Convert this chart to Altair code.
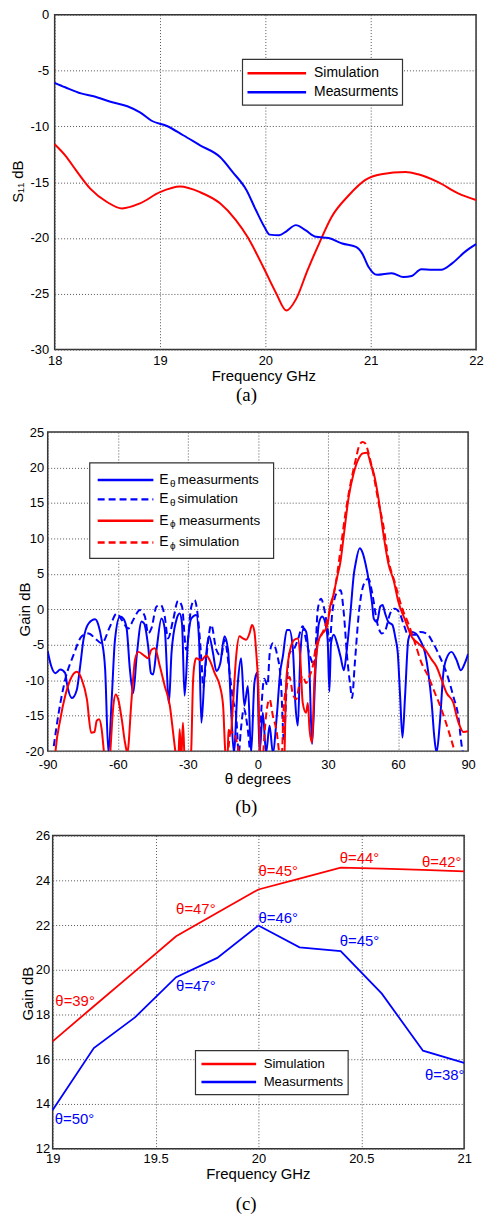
import altair as alt
import pandas as pd

F = "Liberation Sans"
SERIF = "Liberation Serif"
RED = "#ff0000"
BLUE = "#0000ff"
GRID = "#555555"
FRAME = "#333333"

# ---------------- (a) S11 ----------------
a_series = ["Simulation", "Measurments"]
a_sim_f = [18.0, 18.1, 18.2, 18.34, 18.5, 18.64, 18.81, 19.0, 19.19, 19.38, 19.57, 19.72,
           19.83, 19.98, 20.1, 20.2, 20.29, 20.4, 20.51, 20.63, 20.79, 20.95, 21.1, 21.33,
           21.45, 21.64, 21.83, 22.0]
a_sim_db = [-11.6, -12.6, -13.9, -15.6, -16.8, -17.35, -16.9, -15.9, -15.4, -15.9, -16.9, -18.4,
            -19.9, -22.6, -24.9, -26.5, -25.5, -22.9, -20.5, -18.1, -16.2, -14.8, -14.3, -14.1,
            -14.3, -15.0, -16.0, -16.6]
a_meas_f = [18.0, 18.1, 18.25, 18.37, 18.53, 18.69, 18.81, 18.92, 19.06, 19.22, 19.38, 19.57,
            19.69, 19.82, 19.91, 19.99, 20.04, 20.13, 20.2, 20.29, 20.38, 20.48, 20.6, 20.73,
            20.86, 20.92, 20.98, 21.06, 21.2, 21.31, 21.39, 21.48, 21.58, 21.67, 21.77, 21.9, 22.0]
a_meas_db = [-6.1, -6.5, -7.05, -7.3, -7.8, -8.2, -8.75, -9.5, -9.95, -10.8, -11.7, -12.75,
             -14.1, -15.7, -17.5, -19.0, -19.7, -19.75, -19.4, -18.85, -19.3, -19.9, -20.0, -20.5,
             -20.8, -21.4, -22.6, -23.3, -23.15, -23.5, -23.4, -22.8, -22.85, -22.85, -22.3, -21.2, -20.55]
a_xticks = [18, 19, 20, 21, 22]
a_yticks = [-30, -25, -20, -15, -10, -5, 0]

# ---------------- (b) radiation pattern ----------------
b_series = ["E\u03b8 measurments", "E\u03b8 simulation", "E\u03d5 measurments", "E\u03d5 simulation"]
b_em_th = [-90, -88.5, -86.7, -84.6, -82.5, -81.8, -79.6, -77.5, -76.1, -74.7,
           -72.5, -69.7, -68.3, -66.9, -65.4, -64.0, -62.6, -61.2, -59.1, -57.6,
           -56.2, -54.8, -53.4, -51.9, -49.8, -48.7, -47.0, -45.8, -44.9, -43.4,
           -41.3, -39.9, -38.1, -37.0, -34.9, -33.5, -32.5, -31.4, -29.9, -28.5,
           -26.4, -25.2, -24.2, -22.8, -20.9, -19.2, -17.8, -16.1, -14.3, -12.8,
           -11.4, -10.3, -8.6, -7.2, -5.8, -4.3, -2.9, -1.5, -0.3, 0.7,
           2.1, 3.5, 5.0, 6.4, 8.1, 9.5, 10.7, 12.4, 13.5, 15.0,
           16.1, 17.1, 18.2, 19.5, 20.6, 22.1, 23.2, 24.6, 26.1, 27.5,
           28.9, 29.9, 30.6, 31.3, 32.5, 33.9, 35.4, 36.8, 38.2, 39.6,
           41.1, 41.8, 43.6, 44.8, 46.1, 47.7, 48.9, 49.6, 51.0, 52.4,
           53.4, 54.5, 55.9, 57.6, 58.8, 59.9, 60.9, 61.9, 63.0, 64.4,
           65.9, 67.6, 69.4, 71.6, 73.0, 74.4, 75.5, 76.5, 77.9, 79.4,
           80.8, 82.9, 85.0, 86.9, 88.6, 90]
b_em_db = [-5.9, -8.0, -9.0, -8.5, -9.0, -10.4, -12.5, -11.3, -8.0, -4.3,
           -2.0, -1.4, -2.2, -4.3, -8.5, -20.2, -12.7, -4.3, -1.0, -1.3,
           -2.7, -8.5, -11.8, -6.6, -1.7, -2.0, -5.2, -9.0, -9.2, -5.7,
           -1.3, -2.7, -13.2, -6.2, -1.5, -0.6, -2.0, -12.2, -4.3, -1.3,
           -0.8, -4.3, -16.0, -9.0, -3.8, -6.2, -8.7, -7.6, -3.8, -5.7,
           -14.6, -20.2, -10.4, -6.9, -13.6, -10.8, -20.2, -10.4, -8.9, -20.2,
           -14.6, -20.2, -16.4, -20.2, -15.0, -9.0, -6.6, -2.9, -2.9, -5.7,
           -13.6, -16.4, -6.2, -2.7, -3.1, -9.0, -19.0, -9.0, -2.0, -1.0,
           -2.0, -4.5, -11.6, -4.8, -3.6, -4.8, -6.7, -8.6, -5.3, -0.6,
           5.0, 6.4, 8.6, 8.0, 6.4, 3.6, 0.8, -1.3, -1.8, 0.4,
           0.6, -0.6, -1.8, -2.2, -3.9, -6.2, -12.3, -18.1, -12.3, -4.3,
           -3.2, -3.4, -4.3, -6.2, -9.0, -13.2, -17.9, -20.2, -16.0, -9.0,
           -6.9, -6.0, -7.1, -8.6, -7.6, -6.3]
b_es_th = [-87.4, -85.3, -82.5, -78.9, -75.4, -72.5, -69.7, -66.9, -63.3, -60.5,
           -58.3, -55.5, -53.4, -50.5, -48.4, -47.0, -45.6, -43.4, -41.6, -39.9,
           -38.5, -36.3, -34.2, -32.5, -30.7, -28.5, -27.1, -25.7, -24.2, -23.4,
           -22.0, -20.0, -17.8, -15.7, -14.3, -12.1, -10.7, -9.3, -8.2, -7.3,
           -6.0, -4.5, -3.0, 0.6, 1.5, 2.7, 4.1, 5.1, 6.4, 8.1,
           9.9, 11.1, 12.3, 13.5, 15.6, 17.1, 19.2, 20.6, 22.8, 24.2,
           25.6, 27.0, 28.5, 29.9, 30.8, 31.8, 33.9, 35.4, 36.8, 38.2,
           39.6, 40.3, 41.5, 43.2, 45.4, 47.3, 49.0, 51.0, 53.1, 54.5,
           56.6, 58.5, 60.5, 62.3, 64.4, 67.3, 69.4, 72.2, 75.1, 77.9,
           80.8, 83.7, 85.8, 87.2, 88.2]
b_es_db = [-19.3, -14.6, -9.9, -6.4, -3.8, -3.4, -4.1, -4.8, -2.4, -0.6,
           -1.5, -2.7, -1.5, -0.1, -1.0, -3.4, -2.7, 0.4, 0.6, -1.0,
           -4.1, -1.5, 1.2, 0.4, -5.7, 0.4, 1.3, -1.0, -7.1, -11.0,
           -6.5, -2.2, -5.7, -6.6, -4.3, -9.0, -12.7, -15.0, -20.3, -17.0,
           -14.0, -16.5, -20.5, -20.5, -14.0, -9.8, -10.7, -6.1, -4.8, -6.2,
           -10.4, -18.3, -11.0, -6.2, -5.5, -4.3, -2.4, -4.3, -7.1, -8.0,
           -0.1, 1.5, -0.1, -2.9, -4.5, -0.6, 2.4, 2.7, -0.6, -6.7,
           -10.9, -12.5, -7.6, -0.6, 3.6, 4.3, 2.2, -1.8, -3.4, -3.0,
           -0.6, 0.1, -0.4, -2.0, -3.6, -3.6, -3.2, -3.4, -4.8, -6.7,
           -9.0, -12.3, -15.1, -19.1, -21.0]
b_pm_th = [-87.5, -86.7, -84.6, -82.5, -80.3, -77.5, -75.4, -73.2, -71.4, -70.0,
           -69.0, -68.0, -66.9, -65.9, -64.5, -63.3, -61.9, -60.9, -59.8, -58.3,
           -56.9, -55.9, -54.1, -52.6, -51.2, -48.4, -47.0, -45.6, -44.1, -42.0,
           -39.9, -37.7, -36.3, -35.3, -34.3, -33.5, -32.8, -32.1, -31.4, -30.0,
           -28.6, -27.8, -27.1, -26.4, -24.2, -22.1, -20.6, -18.5, -16.3, -14.9,
           -13.9, -13.0, -12.6, -11.6, -10.7, -9.3, -7.9, -6.4, -5.0, -3.6,
           -2.5, -1.5, -0.8, 0.2, 0.9, 2.0, 10.5, 11.4, 12.1, 13.5,
           15.6, 17.1, 18.1, 19.2, 20.6, 21.4, 22.1, 23.2, 24.2, 25.6,
           27.0, 28.5, 29.9, 30.8, 32.3, 33.9, 35.4, 36.8, 38.9, 41.0,
           43.2, 44.9, 46.7, 48.5, 49.6, 51.7, 53.8, 55.9, 58.1, 60.2,
           63.0, 65.9, 68.7, 71.6, 74.4, 76.5, 78.7, 80.8, 83.7, 85.1,
           86.5, 88.0, 90.0]
b_pm_db = [-24, -20.2, -15.5, -12.2, -9.9, -8.8, -9.9, -12.7, -17.4, -17.3,
           -15.7, -15.5, -16.9, -20.2, -24, -20.5, -13.6, -12.0, -12.7, -15.5,
           -18.8, -20.2, -12.7, -7.1, -6.0, -6.6, -6.9, -5.7, -5.5, -8.0,
           -10.8, -13.6, -17.4, -20.2, -23, -16.9, -21, -16.0, -21, -24,
           -20.2, -10.4, -7.6, -6.9, -7.2, -6.5, -7.2, -9.0, -10.8, -13.6,
           -20.2, -21, -17, -17.5, -13.6, -6.6, -3.8, -4.1, -4.3, -3.4,
           -2.2, -3.1, -5.7, -11.3, -20.2, -24, -24, -20.2, -10.4, -6.2,
           -4.3, -4.1, -6.6, -13.2, -14.6, -13.2, -16.9, -18.8, -9.9, -5.0,
           -3.6, -3.1, -2.0, 0.2, 2.0, 4.5, 6.8, 10.5, 15.9, 19.2,
           21.3, 22.0, 22.1, 20.3, 19.2, 15.5, 10.5, 6.4, 4.1, 1.0,
           -1.5, -3.9, -4.8, -5.7, -7.1, -8.1, -10.0, -11.8, -13.2, -15.1,
           -16.5, -17.3, -17.2]
b_ps_th = [-90, -25, -24, -23.4, -22.8, -14, -13, -11.8, -10.5, -9.2,
           -8, -7, 1, 2.2, 3.5, 5.0, 6.4, 8.1, 9.2, 10,
           11.1, 12.6, 13.5, 15.0, 16.5, 17.5, 19.2, 20.6, 22.0, 23.5,
           24.9, 27.0, 29.2, 31.3, 33.5, 35.4, 37.5, 39.7, 41.8, 43.4,
           44.8, 46.0, 47.4, 49.6, 51.7, 53.8, 55.9, 58.8, 61.6, 64.4,
           67.3, 70.1, 73.0, 75.8, 78.7, 81.5, 84.4, 85.5]
b_ps_db = [-30, -30, -24, -20.2, -24, -30, -22, -17.5, -17.3, -18.5,
           -20.8, -26, -30, -21, -15, -12.7, -15, -17.4, -20.5, -22,
           -13.6, -10.4, -9.5, -12.0, -12.7, -11.0, -9.4, -10.4, -9.5, -8.0,
           -5.2, -3.8, -2.0, 0.4, 4.0, 8.5, 13.6, 17.8, 21.0, 23.1,
           23.6, 23.4, 22.0, 18.8, 15.0, 11.7, 7.0, 3.6, 0.3, -2.0,
           -4.8, -7.6, -9.5, -11.8, -14.2, -17.0, -20.2, -21.5]
b_xticks = [-90, -60, -30, 0, 30, 60, 90]
b_yticks = [-20, -15, -10, -5, 0, 5, 10, 15, 20, 25]

# ---------------- (c) gain vs frequency ----------------
c_series = ["Simulation", "Measurments"]
c_f = [19.0, 19.2, 19.4, 19.6, 19.8, 20.0, 20.2, 20.4, 20.6, 20.8, 21.0]
c_sim = [16.8, 18.37, 19.93, 21.5, 22.55, 23.59, 24.08, 24.57, 24.52, 24.47, 24.4]
c_meas = [13.73, 16.5, 17.87, 19.67, 20.53, 21.98, 21.0, 20.83, 18.93, 16.38, 15.84]
c_ann_text = ["\u03b8=39\u00b0", "\u03b8=47\u00b0", "\u03b8=45\u00b0", "\u03b8=44\u00b0", "\u03b8=42\u00b0",
              "\u03b8=50\u00b0", "\u03b8=47\u00b0", "\u03b8=46\u00b0", "\u03b8=45\u00b0", "\u03b8=38\u00b0"]
c_ann_series = ["Simulation"] * 5 + ["Measurments"] * 5
c_ann_f = [19.013, 19.6, 20.0, 20.395, 20.795, 19.01, 19.6, 20.0, 20.395, 20.81]
c_ann_g = [18.58, 22.7, 24.42, 25.01, 24.82, 13.32, 19.28, 22.31, 21.27, 15.29]
c_xticks = [19, 19.5, 20, 20.5, 21]
c_yticks = [12, 14, 16, 18, 20, 22, 24, 26]

ONE = pd.DataFrame({"k": [0]})


def txt(x, y, s, size, color="black", font=F, align="left"):
    return alt.Chart(pd.DataFrame({"t": [s]})).mark_text(
        align=align, baseline="middle", fontSize=size, font=font, color=color
    ).encode(x=alt.value(x), y=alt.value(y), text="t:N")


def box(x0, y0, x1, y1):
    return alt.Chart(ONE).mark_rect(fill="white", stroke=FRAME, strokeWidth=1.2).encode(
        x=alt.value(x0), x2=alt.value(x1), y=alt.value(y0), y2=alt.value(y1))


def extent(top, bottom):
    # invisible block that fixes how far each panel reaches above and below its plot
    return alt.Chart(ONE).mark_rect(opacity=0).encode(
        x=alt.value(0), x2=alt.value(1), y=alt.value(top), y2=alt.value(bottom))


def rule(x0, x1, y, color, dashed=False):
    kw = dict(color=color, strokeWidth=2.5)
    if dashed:
        kw["strokeDash"] = [7, 4]
    return alt.Chart(ONE).mark_rule(**kw).encode(x=alt.value(x0), x2=alt.value(x1), y=alt.value(y))


def axis(values, title, tx, ty, pad, vertical=False):
    kw = dict(values=values, title=title, grid=True, gridColor=GRID, gridDash=[1, 2], gridWidth=1,
              domain=False, ticks=False, labelFlush=False, labelFont=F, labelFontSize=13,
              labelColor="black", labelPadding=pad, labelExpr="'' + datum.value",
              titleFont=F, titleFontSize=15, titleFontWeight="normal", titleColor="black",
              titleX=tx, titleY=ty, titleBaseline="middle", titleAlign="center")
    if vertical:
        kw["titleAngle"] = 270
    return alt.Axis(**kw)


def spacer(w, h):
    return alt.Chart(ONE).mark_point(opacity=0).encode(
        x=alt.value(0), y=alt.value(0)).properties(width=w, height=h, view=alt.ViewBackground(stroke="transparent"))


# ---------- chart (a) ----------
WA, HA = 424, 337
df_a = pd.concat([
    pd.DataFrame({"f": a_sim_f, "db": a_sim_db, "s": a_series[0]}),
    pd.DataFrame({"f": a_meas_f, "db": a_meas_db, "s": a_series[1]}),
])
lines_a = alt.Chart(df_a).mark_line(strokeWidth=2, interpolate="monotone").encode(
    x=alt.X("f:Q", scale=alt.Scale(domain=[18, 22], nice=False, zero=False),
            axis=axis(a_xticks, "Frequency GHz", 210, 26, 5)),
    y=alt.Y("db:Q", scale=alt.Scale(domain=[-30, 0], nice=False, zero=False),
            axis=axis(a_yticks, "S\u2081\u2081 dB", -37.5, 167.5, 6, vertical=True)),
    color=alt.Color("s:N", scale=alt.Scale(domain=a_series, range=[RED, BLUE]), legend=None),
)
leg_a = [box(189, 45, 350, 91)]
for i, (s, c) in enumerate(zip(a_series, [RED, BLUE])):
    yy = 59 + 19 * i
    leg_a += [rule(194, 253, yy, c), txt(261, yy, s, 14)]
chart_a = alt.layer(extent(-10, 404), lines_a, *leg_a,
                    txt(193, 383, "(a)", 19, font=SERIF, align="center")).properties(width=WA, height=HA)

# ---------- chart (b) ----------
WB, HB = 423, 321
b_colors = [BLUE, BLUE, RED, RED]
b_data = [(b_em_th, b_em_db), (b_es_th, b_es_db), (b_pm_th, b_pm_db), (b_ps_th, b_ps_db)]
xb = alt.X("th:Q", scale=alt.Scale(domain=[-90, 90], nice=False, zero=False),
           axis=axis(b_xticks, "\u03b8 degrees", 211, 27.5, 7))
yb = alt.Y("g:Q", scale=alt.Scale(domain=[-20, 25], nice=False, zero=False),
           axis=axis(b_yticks, "Gain dB", -23.7, 178, 4, vertical=True))
lines_b = []
for i, ((th, g), c) in enumerate(zip(b_data, b_colors)):
    kw = dict(strokeWidth=2, interpolate="monotone", clip=True, color=c)
    if i % 2 == 1:
        kw["strokeDash"] = [7, 4]
    lines_b.append(alt.Chart(pd.DataFrame({"th": th, "g": g})).mark_line(**kw).encode(x=xb, y=yb))
leg_b = [box(42.3, 31, 227.3, 127)]
for i, (s, c) in enumerate(zip(b_series, b_colors)):
    yy = [48.3, 67.7, 89.3, 111][i]
    rest_x = 130.7 if s[1] == "\u03b8" else 132
    leg_b += [rule(50.3, 106.3, yy, c, dashed=(i % 2 == 1)),
              txt(112.3, yy, s[0], 14),
              txt(123, yy + 3.5, s[1], 10),
              txt(rest_x, yy, s[2:].strip(), 13.5)]
chart_b = alt.layer(extent(-14, 390), *lines_b, *leg_b,
                    txt(199.7, 377.7, "(b)", 19, font=SERIF, align="center")).properties(width=WB, height=HB)

# ---------- chart (c) ----------
WC, HC = 414, 315
df_c = pd.concat([
    pd.DataFrame({"f": c_f, "g": c_sim, "s": c_series[0]}),
    pd.DataFrame({"f": c_f, "g": c_meas, "s": c_series[1]}),
])
xc = alt.X("f:Q", scale=alt.Scale(domain=[19, 21], nice=False, zero=False),
           axis=axis(c_xticks, "Frequency GHz", 206.5, 24.7, 4))
yc = alt.Y("g:Q", scale=alt.Scale(domain=[12, 26], nice=False, zero=False),
           axis=axis(c_yticks, "Gain dB", -25.5, 158.5, 3, vertical=True))
cc = alt.Color("s:N", scale=alt.Scale(domain=c_series, range=[RED, BLUE]), legend=None)
lines_c = alt.Chart(df_c).mark_line(strokeWidth=1.8).encode(x=xc, y=yc, color=cc)
ann_c = alt.Chart(pd.DataFrame({"f": c_ann_f, "g": c_ann_g, "s": c_ann_series, "t": c_ann_text})).mark_text(
    align="left", baseline="middle", fontSize=15, font=F).encode(x=xc, y=yc, color=cc, text="t:N")
leg_c = [box(143.7, 216.3, 297.3, 260.7)]
for i, (s, c) in enumerate(zip(c_series, [RED, BLUE])):
    yy = [229.7, 248][i]
    leg_c += [rule(149.7, 204.7, yy, c), txt(212.3, yy, s, 13.2)]
chart_c = alt.layer(extent(-14, 380), lines_c, ann_c, *leg_c,
                    txt(194.7, 371, "(c)", 19, font=SERIF, align="center")).properties(width=WC, height=HC)

row_a = alt.hconcat(spacer(7, HA), chart_a, spacing=0, bounds="flush")
row_c = alt.hconcat(spacer(5, HC), chart_c, spacing=0, bounds="flush")

chart = alt.vconcat(row_a, chart_b, row_c, spacing=0).configure_view(
    stroke=FRAME, strokeWidth=1.5
).properties(padding={"left": 9, "top": 0, "right": 0, "bottom": 0}, background="white")

chart.save("out.html", embed_options={"renderer": "svg", "actions": False})
